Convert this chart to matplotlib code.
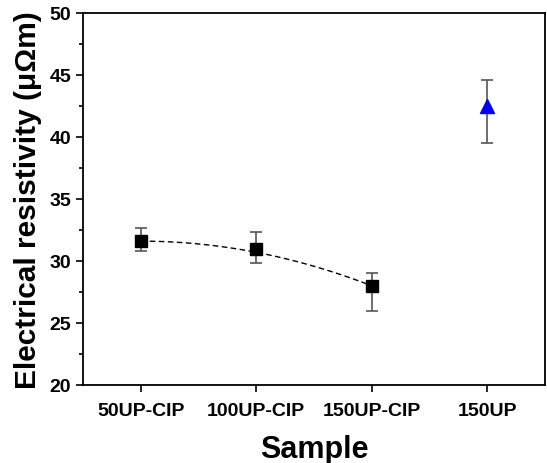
import numpy as np
import matplotlib
matplotlib.use("Agg")
import matplotlib.pyplot as plt
from matplotlib.ticker import MultipleLocator

# Datos
muestras = ["50UP-CIP", "100UP-CIP", "150UP-CIP", "150UP"]
resist_cip = [31.6, 31.0, 28.0]
err_bajo_cip = [0.8, 1.2, 2.0]
err_alto_cip = [1.1, 1.3, 1.0]
resist_up = [42.5]
err_bajo_up = [3.0]
err_alto_up = [2.1]
ajuste_cip = [31.6, 30.7, 28.0]

plt.rcParams['font.family'] = ['Liberation Sans', 'DejaVu Sans']
plt.rcParams['font.weight'] = 'bold'

fig = plt.figure(figsize=(5.47, 4.64), dpi=100)
ax = fig.add_axes([83 / 547, 1 - 386 / 464, (545 - 83) / 547, (386 - 14) / 464])

x_cip = np.arange(1, 4)
x_up = np.array([4])

# curva de ajuste (cuadratica)
coef = np.polyfit(x_cip, ajuste_cip, 2)
xs = np.linspace(1, 3, 100)
ax.plot(xs, np.polyval(coef, xs), ls=(0, (4, 2.5)), color='black', lw=1.0, zorder=2)

ax.errorbar(x_cip, resist_cip, yerr=[err_bajo_cip, err_alto_cip], fmt='s', color='black',
            ms=9, ecolor='#555555', elinewidth=1.2, capsize=4, capthick=1.2, zorder=3)
ax.errorbar(x_up, resist_up, yerr=[err_bajo_up, err_alto_up], fmt='^', color='blue',
            ms=10, ecolor='#555555', elinewidth=1.2, capsize=4, capthick=1.2, zorder=3)

ax.set_xlim(0.5, 4.5)
ax.set_ylim(20, 50)
ax.set_xticks([1, 2, 3, 4])
ax.set_xticklabels(muestras)
ax.yaxis.set_major_locator(MultipleLocator(5))
ax.yaxis.set_minor_locator(MultipleLocator(2.5))
ax.tick_params(axis='both', which='major', labelsize=14, width=1.2, length=5, direction='out')
ax.tick_params(axis='y', which='minor', width=1.2, length=3, direction='out')
ax.tick_params(axis='x', pad=7)
for lab in ax.get_xticklabels() + ax.get_yticklabels():
    lab.set_fontweight('bold')
for s in ax.spines.values():
    s.set_linewidth(1.3)

ax.set_xlabel("Sample", fontsize=22, fontweight='bold', labelpad=11)
ax.set_ylabel("Electrical resistivity (μΩm)", fontsize=21.5, fontweight='bold', labelpad=5)

fig.savefig("out.png", dpi=100)
